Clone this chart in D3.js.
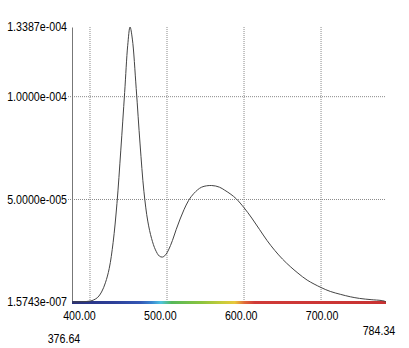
<!DOCTYPE html>
<meta charset="utf-8">
<style>
body { margin: 0; background: #fff; }
svg text { font-family: "Liberation Sans", Arial, sans-serif; font-size: 13px; fill: #000; }
</style>
<body>
<svg width="409" height="348"></svg>
<script src="https://cdn.jsdelivr.net/npm/d3@7/dist/d3.min.js"></script>
<script>
// spectrum (wavelength nm, relative power)
var wavelengths = [376.64, 390, 400, 405, 410, 415, 420, 425, 430, 435, 440, 445, 449, 452, 455, 460, 465, 470, 475, 480, 485, 490, 494, 498, 502, 507, 512, 517, 522, 528, 535, 545, 558, 568, 575, 583, 590, 600, 610, 620, 630, 640, 650, 660, 670, 682, 700, 712, 725, 738, 750, 765, 778, 782, 784.34];
var power = [1.6e-7, 3e-7, 6e-7, 1.2e-6, 2.4e-6, 5e-6, 9.5e-6, 1.65e-5, 2.9e-5, 4.8e-5, 7.4e-5, 1.02e-4, 1.25e-4, 1.3387e-4, 1.28e-4, 1.04e-4, 7.7e-5, 5.4e-5, 3.95e-5, 3.1e-5, 2.55e-5, 2.25e-5, 2.2e-5, 2.3e-5, 2.55e-5, 3.0e-5, 3.55e-5, 4.05e-5, 4.5e-5, 4.95e-5, 5.3e-5, 5.6e-5, 5.68e-5, 5.6e-5, 5.45e-5, 5.25e-5, 5.03e-5, 4.6e-5, 4.1e-5, 3.55e-5, 3.0e-5, 2.52e-5, 2.1e-5, 1.74e-5, 1.42e-5, 1.08e-5, 7.2e-6, 5.3e-6, 3.9e-6, 2.7e-6, 1.9e-6, 1.3e-6, 9e-7, 6e-7, 2e-7];

var xTicks = [400, 500, 600, 700];
var xTickLabels = ["400.00", "500.00", "600.00", "700.00"];
var yTicks = [1.5743e-7, 5e-5, 1e-4, 1.3387e-4];
var yTickLabels = ["1.5743e-007", "5.0000e-005", "1.0000e-004", "1.3387e-004"];
var yGrid = [5e-5, 1e-4];
var xMinLabel = "376.64", xMaxLabel = "784.34";

// colour bar under the axis
var barWl = [376.64, 430, 465, 480, 492, 506, 545, 572, 588, 601, 614, 784.34];
var barColor = ["#28307e", "#2d3f98", "#3356b4", "#3a86d0", "#4ec3e0", "#56b85a", "#8cc43e", "#c8cc3a", "#e8c83c", "#e0683a", "#d03a38", "#c83232"];

var svg = d3.select("svg");

var x = d3.scaleLinear().domain([376.64, 784.34]).range([72, 386]);
var y = d3.scaleLinear().domain([1.5743e-7, 1.3387e-4]).range([302, 27]);
// tick labels sit a little left of their grid lines, more so at the left end
var xLab = d3.scaleLinear().domain([400, 700]).range([x(400) - 11, x(700) + 0.5]);

// narrow the labels (the original uses a condensed face)
function narrow(sel) {
  sel.each(function() {
    var w = this.getComputedTextLength();
    d3.select(this).attr("textLength", w * 0.82).attr("lengthAdjust", "spacingAndGlyphs");
  });
}

// vertical grid
svg.append("g").selectAll("line")
  .data(xTicks).enter().append("line")
    .attr("x1", function(d) { return x(d); })
    .attr("x2", function(d) { return x(d); })
    .attr("y1", y.range()[1])
    .attr("y2", y.range()[0])
    .attr("stroke", "#8a8a8a")
    .attr("stroke-dasharray", "1,1");

// horizontal grid
svg.append("g").selectAll("line")
  .data(yGrid).enter().append("line")
    .attr("x1", x.range()[0] - 4)
    .attr("x2", x.range()[1])
    .attr("y1", function(d) { return y(d); })
    .attr("y2", function(d) { return y(d); })
    .attr("stroke", "#8a8a8a")
    .attr("stroke-dasharray", "1,1");

// y axis
var yAxis = svg.append("g")
    .attr("transform", "translate(" + x.range()[0] + ",0)")
    .call(d3.axisLeft(y).tickValues(yTicks).tickSize(0).tickPadding(5)
      .tickFormat(function(d, i) { return yTickLabels[i]; }));
yAxis.select(".domain").attr("stroke", "#777");
yAxis.attr("font-family", null).attr("font-size", null);
yAxis.selectAll("text").attr("dy", "0.3em").call(narrow);

// x axis labels
var xAxis = svg.append("g")
    .attr("transform", "translate(0," + y.range()[0] + ")")
    .call(d3.axisBottom(xLab).tickValues(xTicks).tickSize(0).tickPadding(6)
      .tickFormat(function(d, i) { return xTickLabels[i]; }));
xAxis.select(".domain").remove();
xAxis.attr("font-family", null).attr("font-size", null);
xAxis.selectAll("text").attr("dy", "0.9em").call(narrow);

// range end labels
svg.append("text")
    .attr("x", x(x.domain()[0]) - 8)
    .attr("y", 343)
    .attr("text-anchor", "middle")
    .text(xMinLabel)
    .call(narrow);
svg.append("text")
    .attr("x", x(x.domain()[1]) - 7)
    .attr("y", 335)
    .attr("text-anchor", "middle")
    .text(xMaxLabel)
    .call(narrow);

// colour bar
var grad = svg.append("defs").append("linearGradient")
    .attr("id", "spec")
    .attr("gradientUnits", "userSpaceOnUse")
    .attr("x1", x.range()[0]).attr("x2", x.range()[1])
    .attr("y1", 0).attr("y2", 0);
grad.selectAll("stop")
  .data(barWl).enter().append("stop")
    .attr("offset", function(d) { return (x(d) - x.range()[0]) / (x.range()[1] - x.range()[0]); })
    .attr("stop-color", function(d, i) { return barColor[i]; });

svg.append("rect")
    .attr("x", x.range()[0])
    .attr("y", y.range()[0] - 1)
    .attr("width", x.range()[1] - x.range()[0])
    .attr("height", 3)
    .attr("fill", "url(#spec)");

// spectrum curve
var line = d3.line()
    .x(function(d, i) { return x(wavelengths[i]); })
    .y(function(d) { return y(d); })
    .curve(d3.curveCatmullRom.alpha(0.5));

svg.append("path")
    .datum(power)
    .attr("fill", "none")
    .attr("stroke", "#444")
    .attr("stroke-width", 1)
    .attr("d", line);
</script>
</body>
